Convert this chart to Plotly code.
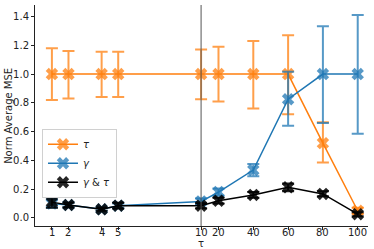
import plotly.graph_objects as go

x_vals = [1, 2, 4, 5, 10, 20, 40, 60, 80, 100]
tick_labels = ["1", "2", "4", "5", "10", "20", "40", "60", "80", "100"]

tau_mean = [1.0, 1.0, 1.0, 1.0, 1.0, 1.0, 1.0, 1.0, 0.52, 0.05]
tau_lo = [0.82, 0.83, 0.84, 0.84, 0.825, 0.81, 0.76, 0.72, 0.385, 0.03]
tau_hi = [1.18, 1.16, 1.155, 1.155, 1.17, 1.19, 1.23, 1.27, 0.665, 0.07]

gam_mean = [0.10, 0.09, 0.06, 0.085, 0.115, 0.18, 0.333, 0.825, 1.0, 1.0]
gam_lo = [0.07, 0.075, 0.05, 0.07, 0.095, 0.155, 0.29, 0.64, 0.66, 0.585]
gam_hi = [0.13, 0.105, 0.07, 0.10, 0.135, 0.205, 0.375, 1.016, 1.333, 1.41]

both_mean = [0.11, 0.09, 0.06, 0.085, 0.085, 0.12, 0.16, 0.213, 0.167, 0.026]
both_lo = [0.07, 0.075, 0.05, 0.065, 0.068, 0.10, 0.14, 0.185, 0.15, 0.012]
both_hi = [0.15, 0.105, 0.07, 0.105, 0.102, 0.14, 0.18, 0.24, 0.185, 0.04]

break_at = 10


def pos(x):
    # piecewise-linear (broken) axis: fine scale up to 10, coarse scale after
    return (x - 1) if x <= break_at else (break_at - 1) + (x - break_at) * 0.105


xp = [pos(v) for v in x_vals]

series = [
    ("<i>τ</i>", tau_mean, tau_lo, tau_hi, "#ff7f0e", "rgba(255,127,14,0.75)"),
    ("<i>γ</i>", gam_mean, gam_lo, gam_hi, "#1f77b4", "rgba(31,119,180,0.75)"),
    ("<i>γ</i> &amp; <i>τ</i>", both_mean, both_lo, both_hi, "#000000", "rgba(0,0,0,0.85)"),
]

fig = go.Figure()
for name, m, lo, hi, col, acol in series:
    fig.add_trace(go.Scatter(
        x=xp, y=m, name=name, mode="lines+markers",
        line=dict(color=col, width=1.5),
        marker=dict(symbol="x", size=11, color=acol, line=dict(width=0)),
        error_y=dict(type="data", symmetric=False,
                     array=[h - v for h, v in zip(hi, m)],
                     arrayminus=[v - l for v, l in zip(m, lo)],
                     color=acol, thickness=2, width=6),
    ))

fig.add_vline(x=pos(break_at), line=dict(color="#555555", width=1))

# x tick labels placed tight under the axis
for xv, lab in zip(xp, tick_labels):
    fig.add_annotation(text=lab, x=xv, xref="x", y=-0.0294, yref="paper",
                       showarrow=False, yanchor="middle", borderpad=0,
                       font=dict(size=10, color="#222"))

fig.add_annotation(text="Norm Average MSE", x=-0.08, xref="paper", y=0.5, yref="paper",
                   textangle=-90, showarrow=False, xanchor="center", yanchor="middle",
                   font=dict(size=10, color="#222"))
fig.add_annotation(text="τ", x=pos(break_at), xref="x", y=-0.077, yref="paper",
                   showarrow=False, yanchor="middle", borderpad=0,
                   font=dict(size=10, color="#222"))

fig.update_layout(
    width=374, height=249,
    margin=dict(l=35, r=6, t=5, b=23),
    plot_bgcolor="white", paper_bgcolor="white",
    font=dict(family="DejaVu Sans", size=10, color="#222"),
    showlegend=True,
    legend=dict(x=0.021, y=0.44, xanchor="left", yanchor="top",
                bordercolor="#d0d0d0", borderwidth=1, bgcolor="white",
                font=dict(size=10), itemwidth=30, tracegroupgap=0),
    xaxis=dict(range=[-1.02, 19.07], tickvals=xp, showticklabels=False,
               showgrid=False, zeroline=False, showline=True, linecolor="#222",
               linewidth=1, ticks="outside", ticklen=3, tickcolor="#222",
               automargin=False),
    yaxis=dict(range=[-0.056, 1.48], tickvals=[0, 0.2, 0.4, 0.6, 0.8, 1.0, 1.2, 1.4],
               tickformat=".1f",
               showgrid=False, zeroline=False, showline=True, linecolor="#222",
               linewidth=1, ticks="outside", ticklen=3, tickcolor="#222",
               automargin=False),
)

fig.write_html("out.html", config={"displayModeBar": False},
               post_script="document.body.style.margin='0';")
